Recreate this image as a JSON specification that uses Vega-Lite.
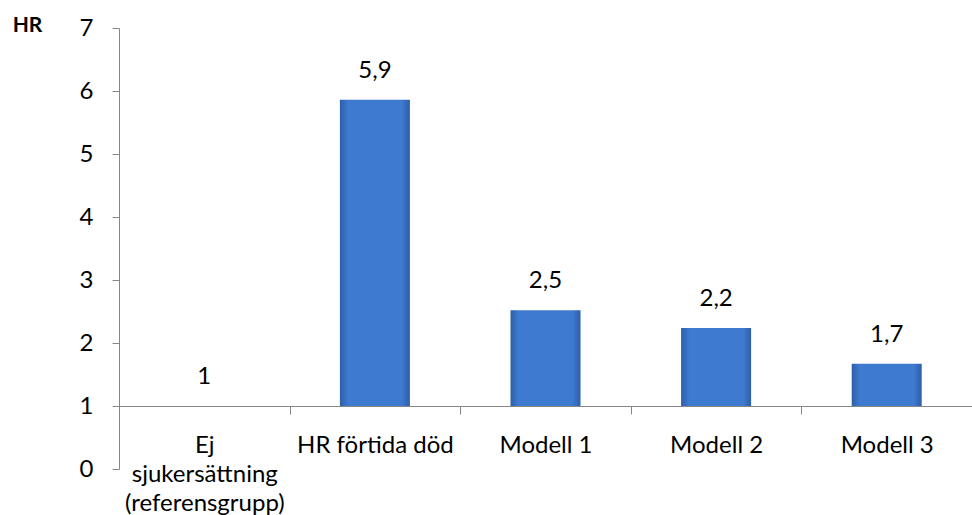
{
  "$schema": "https://vega.github.io/schema/vega-lite/v6.json",
  "autosize": "none",
  "width": 853,
  "height": 441,
  "padding": {"left": 119, "top": 28, "right": 0, "bottom": 46},
  "background": "white",
  "config": {
    "view": {"stroke": null},
    "font": "Lato",
    "axis": {"grid": false}
  },
  "data": {
    "values": [
      {"kategori": "Ej|sjukersättning|(referensgrupp)", "hr": 1.0, "etikett": "1", "ordning": 1},
      {"kategori": "HR förtida död", "hr": 5.86, "etikett": "5,9", "ordning": 2},
      {"kategori": "Modell 1", "hr": 2.52, "etikett": "2,5", "ordning": 3},
      {"kategori": "Modell 2", "hr": 2.24, "etikett": "2,2", "ordning": 4},
      {"kategori": "Modell 3", "hr": 1.67, "etikett": "1,7", "ordning": 5}
    ]
  },
  "encoding": {
    "x": {
      "field": "kategori",
      "type": "nominal",
      "sort": {"field": "ordning"},
      "scale": {"paddingInner": 0, "paddingOuter": 0},
      "axis": {
        "title": null,
        "labelAngle": 0,
        "labelExpr": "split(datum.label, '|')",
        "labelLineHeight": 29,
        "labelBaseline": "top",
        "labelFontSize": 24,
        "labelColor": "#000000",
        "labelPadding": 19,
        "labelLimit": 300,
        "tickBand": "extent",
        "tickSize": 8,
        "tickColor": "#868686",
        "domainColor": "#868686",
        "offset": -63
      }
    }
  },
  "layer": [
    {
      "mark": {
        "type": "bar",
        "width": 70,
        "color": {
          "gradient": "linear",
          "x1": 0, "x2": 1, "y1": 0, "y2": 0,
          "stops": [
            {"offset": 0, "color": "#2d5fa8"},
            {"offset": 0.12, "color": "#3e7bd0"},
            {"offset": 0.88, "color": "#3e7bd0"},
            {"offset": 1, "color": "#2d5fa8"}
          ]
        }
      },
      "encoding": {
        "y": {
          "field": "hr",
          "type": "quantitative",
          "scale": {"domain": [0, 7], "nice": false},
          "axis": {
            "title": "HR",
            "titleAngle": 0,
            "titleFontWeight": "bold",
            "titleFontSize": 21,
            "titleColor": "#000000",
            "titleX": -92,
            "titleY": -3,
            "titleAlign": "center",
            "titleBaseline": "middle",
            "values": [0, 1, 2, 3, 4, 5, 6, 7],
            "format": "d",
            "labelFontSize": 24,
            "labelColor": "#000000",
            "labelPadding": 19,
            "tickSize": 7,
            "tickColor": "#868686",
            "domainColor": "#868686"
          }
        },
        "y2": {"datum": 1}
      }
    },
    {
      "mark": {"type": "text", "dy": -29, "fontSize": 24, "color": "#000000", "baseline": "middle"},
      "encoding": {
        "y": {"field": "hr", "type": "quantitative"},
        "text": {"field": "etikett"}
      }
    }
  ]
}
